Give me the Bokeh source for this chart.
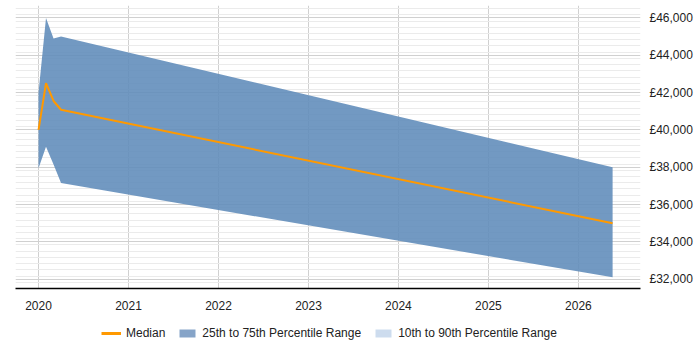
from bokeh.plotting import figure
from bokeh.layouts import column
from bokeh.models import (ColumnDataSource, FixedTicker, Legend, LegendItem, Range1d)
from bokeh.embed import file_html
from bokeh.resources import INLINE

# Decimal-year time points and salary percentiles
dates = [2020.0, 2020.083, 2020.167, 2020.25, 2026.38]
median = [40000, 42500, 41550, 41080, 35000]
p25 = [37950, 39100, 38150, 37150, 32100]
p75 = [42000, 46000, 44900, 45000, 38000]

year_ticks = [2020, 2021, 2022, 2023, 2024, 2025, 2026]
year_labels = ["2020", "2021", "2022", "2023", "2024", "2025", "2026"]
salary_ticks = [32000, 34000, 36000, 38000, 40000, 42000, 44000, 46000]
salary_labels = ["£32,000", "£34,000", "£36,000", "£38,000",
                 "£40,000", "£42,000", "£44,000", "£46,000"]

FONT = "Liberation Sans"
BAND = dict(fill_color="#5f8bb9", fill_alpha=0.88)
MEDIAN = dict(line_color="#ff9900", line_width=2)

src = ColumnDataSource(dict(x=dates, med=median, lo=p25, hi=p75))

p = figure(width=700, height=312, output_backend="svg", toolbar_location=None,
           x_range=Range1d(2019.744, 2026.69), y_range=Range1d(31500, 46667),
           y_axis_location="right", min_border_left=15, min_border_right=60,
           min_border_top=5, min_border_bottom=0)
p.outline_line_color = None

p.varea(x="x", y1="lo", y2="hi", source=src, **BAND)
p.line(x="x", y="med", source=src, **MEDIAN)

# minor gridlines every third of 1000
minor = [31500 + i * (2000 / 6) for i in range(0, 47)]
p.yaxis.ticker = FixedTicker(ticks=salary_ticks, minor_ticks=minor)
p.yaxis.major_label_overrides = {t: l for t, l in zip(salary_ticks, salary_labels)}
p.xaxis.ticker = FixedTicker(ticks=year_ticks)
p.xaxis.major_label_overrides = {t: l for t, l in zip(year_ticks, year_labels)}

for ax in (p.xaxis, p.yaxis):
    ax.major_tick_line_color = None
    ax.minor_tick_line_color = None
    ax.major_label_text_font = FONT
    ax.major_label_text_font_size = "12px"
    ax.major_label_text_color = "#222222"
p.yaxis.axis_line_color = None
p.yaxis.major_label_standoff = 3
p.xaxis.axis_line_color = "#000000"
p.xaxis.axis_line_width = 1.5
p.xaxis.major_label_standoff = 6

p.xgrid.grid_line_color = "#d0d0d0"
p.ygrid.grid_line_color = "#d0d0d0"
p.ygrid.minor_grid_line_color = "#ebebeb"

# legend strip underneath; its renderers sit outside the visible range
lg = figure(width=700, height=38, output_backend="svg", toolbar_location=None,
            x_range=Range1d(0, 1), y_range=Range1d(0, 1),
            min_border=0, min_border_left=0, min_border_right=0,
            min_border_top=0, min_border_bottom=0)
lg.axis.visible = False
lg.grid.visible = False
lg.outline_line_color = None
r_line = lg.line(x="x", y="med", source=src, line_color="#ff9900", line_width=3)
r_band = lg.varea(x="x", y1="lo", y2="hi", source=src, fill_color="#86a4c8")
r_outer = lg.varea(x="x", y1="lo", y2="hi", source=src, fill_color="#cddcee")

legend = Legend(items=[
    LegendItem(label="Median", renderers=[r_line]),
    LegendItem(label="25th to 75th Percentile Range", renderers=[r_band]),
    LegendItem(label="10th to 90th Percentile Range", renderers=[r_outer]),
], orientation="horizontal", location=(86, 10))
legend.label_text_font = FONT
legend.label_text_font_size = "12px"
legend.label_text_color = "#222222"
legend.border_line_color = None
legend.background_fill_alpha = 0
legend.glyph_width = 20
legend.glyph_height = 10
legend.spacing = 12
legend.label_standoff = 5
legend.margin = 0
legend.padding = 4
lg.add_layout(legend)

open("out.html", "w").write(file_html(column(p, lg, spacing=0), INLINE))
